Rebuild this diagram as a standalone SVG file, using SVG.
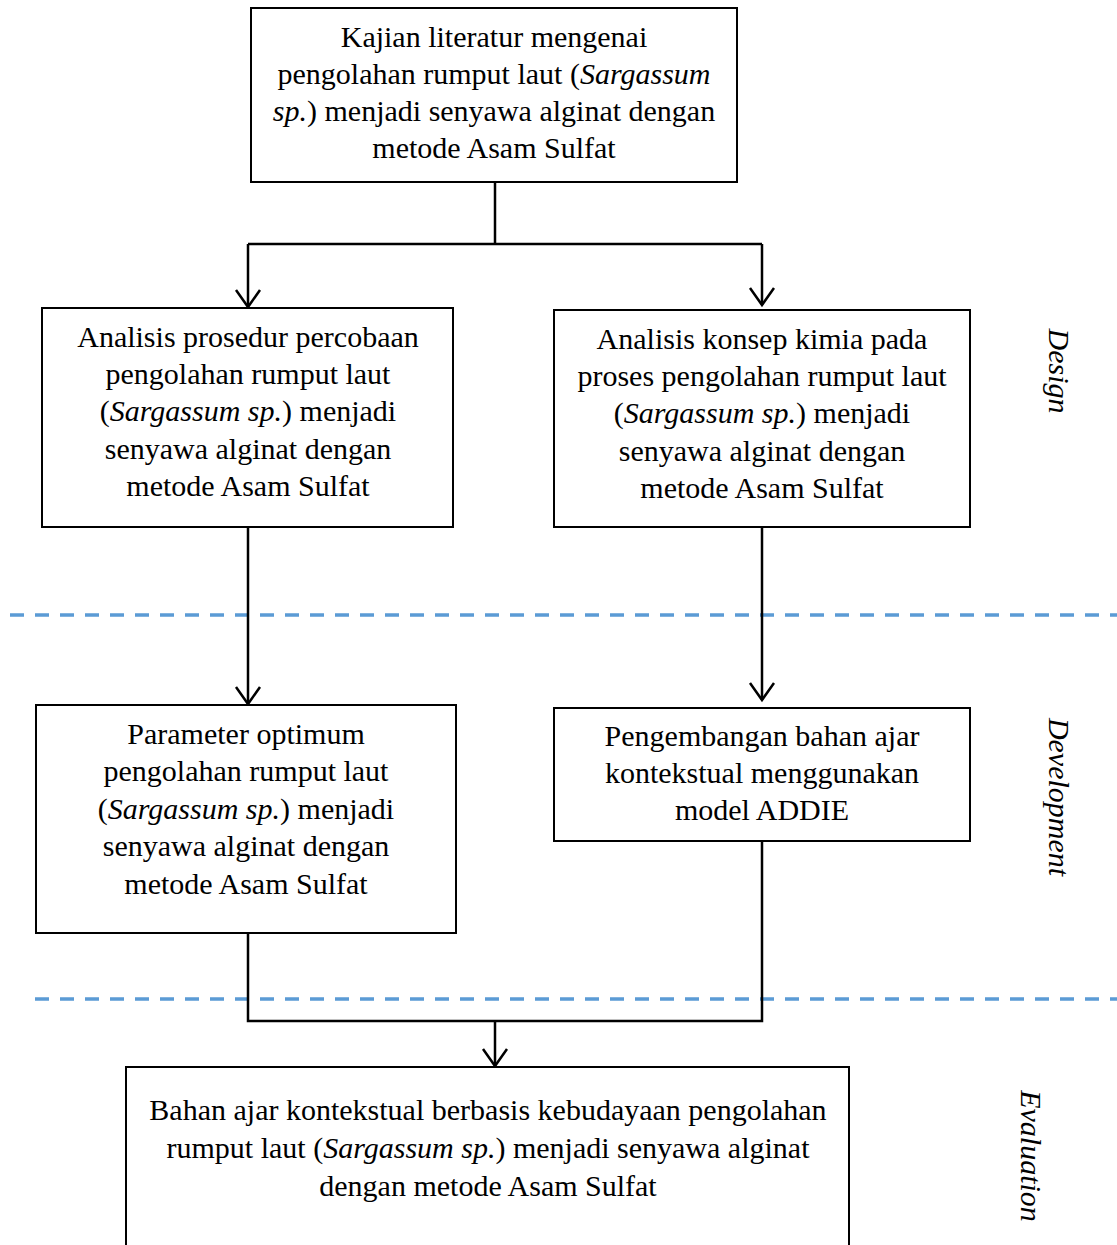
<svg xmlns="http://www.w3.org/2000/svg" width="1117" height="1245" viewBox="0 0 1117 1245">
<style>
.box{fill:#fff;stroke:#000;stroke-width:2}
text{font-family:'Liberation Serif','Times New Roman',Times,serif}
.t{font-size:30px;fill:#000;text-anchor:middle}
.i{font-style:italic}
.c{fill:none;stroke:#000;stroke-width:2.5}
.d{fill:none;stroke:#5B9BD5;stroke-width:3.5;stroke-dasharray:14 11}
.lab{font-size:30px;font-style:italic;fill:#000;text-anchor:middle}
</style>
<rect width="1117" height="1245" fill="#fff"/>
<g id="dividers">
<line class="d" x1="10" y1="615" x2="1117" y2="615"/>
<line class="d" x1="35" y1="999" x2="1117" y2="999"/>
</g>
<g id="connectors">
<polyline class="c" points="495,182 495,244"/>
<polyline class="c" points="248,244 762,244"/>
<polyline class="c" points="248,244 248,307"/>
<path class="c" d="M236 290 L248 307 L260 290"/>
<polyline class="c" points="762,244 762,305"/>
<path class="c" d="M750 288 L762 305 L774 288"/>
<polyline class="c" points="248,527 248,704"/>
<path class="c" d="M236 687 L248 704 L260 687"/>
<polyline class="c" points="762,527 762,700"/>
<path class="c" d="M750 683 L762 700 L774 683"/>
<polyline class="c" points="248,933 248,1021 762,1021 762,841"/>
<polyline class="c" points="495,1021 495,1066"/>
<path class="c" d="M483 1049 L495 1066 L507 1049"/>
</g>
<g id="n1">
<rect class="box" x="251" y="8" width="486" height="174"/>
<text class="t" x="494" y="47">Kajian literatur mengenai</text>
<text class="t" x="494" y="84">pengolahan rumput laut (<tspan class="i">Sargassum</tspan></text>
<text class="t" x="494" y="121"><tspan class="i">sp.</tspan>) menjadi senyawa alginat dengan</text>
<text class="t" x="494" y="158">metode Asam Sulfat</text>
</g>
<g id="n2">
<rect class="box" x="42" y="308" width="411" height="219"/>
<text class="t" x="248" y="347">Analisis prosedur percobaan</text>
<text class="t" x="248" y="384">pengolahan rumput laut</text>
<text class="t" x="248" y="421">(<tspan class="i">Sargassum sp.</tspan>) menjadi</text>
<text class="t" x="248" y="459">senyawa alginat dengan</text>
<text class="t" x="248" y="496">metode Asam Sulfat</text>
</g>
<g id="n3">
<rect class="box" x="554" y="310" width="416" height="217"/>
<text class="t" x="762" y="349">Analisis konsep kimia pada</text>
<text class="t" x="762" y="386">proses pengolahan rumput laut</text>
<text class="t" x="762" y="423">(<tspan class="i">Sargassum sp.</tspan>) menjadi</text>
<text class="t" x="762" y="461">senyawa alginat dengan</text>
<text class="t" x="762" y="498">metode Asam Sulfat</text>
</g>
<g id="n4">
<rect class="box" x="36" y="705" width="420" height="228"/>
<text class="t" x="246" y="744">Parameter optimum</text>
<text class="t" x="246" y="781">pengolahan rumput laut</text>
<text class="t" x="246" y="819">(<tspan class="i">Sargassum sp.</tspan>) menjadi</text>
<text class="t" x="246" y="856">senyawa alginat dengan</text>
<text class="t" x="246" y="894">metode Asam Sulfat</text>
</g>
<g id="n5">
<rect class="box" x="554" y="708" width="416" height="133"/>
<text class="t" x="762" y="746">Pengembangan bahan ajar</text>
<text class="t" x="762" y="783">kontekstual menggunakan</text>
<text class="t" x="762" y="820">model ADDIE</text>
</g>
<g id="n6">
<rect class="box" x="126" y="1067" width="723" height="190"/>
<text class="t" x="488" y="1120">Bahan ajar kontekstual berbasis kebudayaan pengolahan</text>
<text class="t" x="488" y="1158">rumput laut (<tspan class="i">Sargassum sp.</tspan>) menjadi senyawa alginat</text>
<text class="t" x="488" y="1196">dengan metode Asam Sulfat</text>
</g>
<g id="labels">
<text class="lab" transform="translate(1049 371) rotate(90)">Design</text>
<text class="lab" transform="translate(1049 797) rotate(90)">Development</text>
<text class="lab" transform="translate(1021 1156) rotate(90)">Evaluation</text>
</g>
</svg>
